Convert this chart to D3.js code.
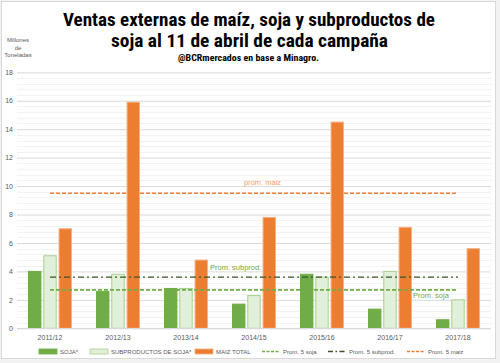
<!DOCTYPE html>
<html>
<head>
<meta charset="utf-8">
<script src="https://cdn.jsdelivr.net/npm/d3@7"></script>
<style>
  body { margin: 0; background: #fff; }
  svg { display: block; font-family: "Liberation Sans", Arial, sans-serif; }
</style>
</head>
<body>
<div id="chart"></div>
<script>
// campañas
var campanas = ['2011/12', '2012/13', '2013/14', '2014/15', '2015/16', '2016/17', '2017/18'];
// millones de toneladas al 11 de abril
var soja = [4.0, 2.6, 2.8, 1.7, 3.8, 1.35, 0.6];
var subproductos = [5.1, 3.8, 2.8, 2.3, 3.6, 4.0, 2.0];
var maiz = [7.0, 15.9, 4.8, 7.8, 14.5, 7.1, 5.6];
// promedios 5 años
var promSoja = 2.7, promSubprod = 3.6, promMaiz = 9.5;
var yTicks = [0, 2, 4, 6, 8, 10, 12, 14, 16, 18];

var width = 500, height = 363;
var svg = d3.select('#chart').append('svg')
  .attr('width', width)
  .attr('height', height);

// marco del grafico
svg.append('rect').attr('x', 0).attr('y', 0).attr('width', width).attr('height', height).attr('fill', '#f2f2f2');
svg.append('rect').attr('x', 1.5).attr('y', 1.5).attr('width', 494).attr('height', 357)
  .attr('fill', '#fff').attr('stroke', '#d9d9d9');

var x = d3.scaleBand().domain(campanas).range([16, 492]);
var y = d3.scaleLinear().domain([0, 18]).range([328.3, 72.3]);

// grilla menor cada 0.4
var minor = d3.range(0, 18.01, 0.4).filter(function(v){ return Math.abs(v / 2 - Math.round(v / 2)) > 0.01; });
svg.append('g').selectAll('line').data(minor).enter().append('line')
  .attr('x1', 17).attr('x2', 491)
  .attr('y1', function(d){ return Math.round(y(d)) + 0.5; })
  .attr('y2', function(d){ return Math.round(y(d)) + 0.5; })
  .attr('stroke', '#f2f2f2');

// grilla mayor
var yAxis = svg.append('g').attr('transform', 'translate(17,0)')
  .call(d3.axisLeft(y).tickValues(yTicks).tickSize(-474).tickFormat(d3.format('d')));
yAxis.select('.domain').remove();
yAxis.selectAll('line').attr('stroke', '#d9d9d9');
yAxis.selectAll('text').attr('x', -4).attr('fill', '#595959').style('font-size', '7px');

var inner = d3.scaleBand().domain(['soja', 'sub', 'maiz']).range([0, 44]).paddingInner(0.12);
var off = (x.bandwidth() - 44) / 2;

var series = [
  {key: 'soja', values: soja, fill: '#70ad47', stroke: '#70ad47'},
  {key: 'sub', values: subproductos, fill: '#e2efda', stroke: '#a9d08e'},
  {key: 'maiz', values: maiz, fill: '#ed7d31', stroke: '#f4b183'}
];

series.forEach(function(s){
  svg.append('g').selectAll('rect').data(s.values).enter().append('rect')
    .attr('x', function(d, i){ return x(campanas[i]) + off + inner(s.key) + 0.5; })
    .attr('y', function(d){ return y(d); })
    .attr('width', inner.bandwidth() - 1)
    .attr('height', function(d){ return y(0) - y(d); })
    .attr('fill', s.fill)
    .attr('stroke', s.stroke)
    .attr('stroke-width', 1);
});

// lineas de promedio, de la primera a la ultima campaña
var x0 = x(campanas[0]) + x.bandwidth() / 2;
var x1 = x(campanas[campanas.length - 1]) + x.bandwidth() / 2;
var proms = [
  {v: promMaiz, color: '#ed7d31', dash: '4,2', w: 1.5},
  {v: promSubprod, color: '#375623', dash: '6,3,2,3', w: 1.2},
  {v: promSoja, color: '#70ad47', dash: '4,2', w: 1.8}
];
proms.forEach(function(p){
  svg.append('line')
    .attr('x1', x0).attr('x2', x1)
    .attr('y1', y(p.v)).attr('y2', y(p.v))
    .attr('stroke', p.color).attr('stroke-width', p.w)
    .attr('stroke-dasharray', p.dash);
});

svg.append('text').attr('x', 244).attr('y', y(promMaiz) - 8).text('prom. maiz')
  .attr('fill', '#f4a261').style('font-size', '7.5px');
svg.append('text').attr('x', 210).attr('y', y(promSubprod) - 7).text('Prom. subprod.')
  .attr('fill', '#70ad47').style('font-size', '7.5px');
svg.append('text').attr('x', 413).attr('y', y(promSoja) + 8).text('Prom. soja')
  .attr('fill', '#7fa447').style('font-size', '7.5px');

// eje x
svg.append('line').attr('x1', 17).attr('x2', 491).attr('y1', 328.5).attr('y2', 328.5).attr('stroke', '#d9d9d9');
svg.append('g').selectAll('text').data(campanas).enter().append('text')
  .attr('x', function(d){ return x(d) + x.bandwidth() / 2; })
  .attr('y', 340)
  .attr('text-anchor', 'middle')
  .attr('fill', '#595959')
  .style('font-size', '7px')
  .text(function(d){ return d; });

// titulos
var tFont = '"Liberation Sans Narrow", "Roboto Condensed", "DejaVu Sans Condensed", "Liberation Sans", sans-serif';
svg.append('text').attr('x', 63).attr('y', 26)
  .attr('textLength', 372).attr('lengthAdjust', 'spacingAndGlyphs')
  .style('font-family', tFont).style('font-weight', 'bold').style('font-size', '19px')
  .text('Ventas externas de maíz, soja y subproductos de');
svg.append('text').attr('x', 111).attr('y', 47)
  .attr('textLength', 277).attr('lengthAdjust', 'spacingAndGlyphs')
  .style('font-family', tFont).style('font-weight', 'bold').style('font-size', '19px')
  .text('soja al 11 de abril de cada campaña');
svg.append('text').attr('x', 178).attr('y', 61)
  .attr('textLength', 141).attr('lengthAdjust', 'spacingAndGlyphs')
  .style('font-family', tFont).style('font-weight', 'bold').style('font-size', '8.5px')
  .text('@BCRmercados en base a Minagro.');

var unidad = svg.append('text').attr('text-anchor', 'middle').attr('fill', '#595959').style('font-size', '6px');
['Millones', 'de', 'Toneladas'].forEach(function(t, i){
  unidad.append('tspan').attr('x', 18).attr('y', 42 + i * 7.5).text(t);
});

// leyenda
var legend = [
  {label: 'SOJA*', type: 'rect', fill: '#70ad47', stroke: '#70ad47', x: 39},
  {label: 'SUBPRODUCTOS DE SOJA*', type: 'rect', fill: '#e2efda', stroke: '#a9d08e', x: 90},
  {label: 'MAIZ TOTAL', type: 'rect', fill: '#ed7d31', stroke: '#f4b183', x: 195},
  {label: 'Prom. 5 soja', type: 'line', stroke: '#70ad47', dash: '3,1.5', x: 262},
  {label: 'Prom. 5 subprod.', type: 'line', stroke: '#375623', dash: '5,2.5,1.5,2.5', x: 328},
  {label: 'Prom. 5 maiz', type: 'line', stroke: '#ed7d31', dash: '3,1.5', x: 407}
];
var ly = 351.5;
legend.forEach(function(l){
  if (l.type === 'rect') {
    svg.append('rect').attr('x', l.x).attr('y', ly - 2.5).attr('width', 18).attr('height', 5)
      .attr('fill', l.fill).attr('stroke', l.stroke).attr('stroke-width', 0.8);
  } else {
    svg.append('line').attr('x1', l.x).attr('x2', l.x + 18).attr('y1', ly).attr('y2', ly)
      .attr('stroke', l.stroke).attr('stroke-width', 1.5).attr('stroke-dasharray', l.dash);
  }
  svg.append('text').attr('x', l.x + 21).attr('y', ly + 2.3).attr('fill', '#595959')
    .style('font-size', '6px').text(l.label);
});
</script>
</body>
</html>
